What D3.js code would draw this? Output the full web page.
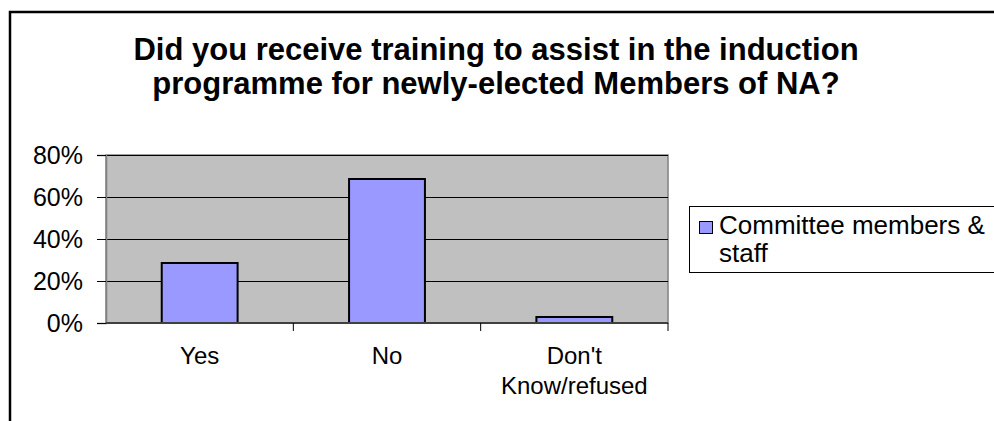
<!DOCTYPE html>
<html>
<head>
<meta charset="utf-8">
<script src="https://cdn.jsdelivr.net/npm/d3@7"></script>
<style>
  html, body { margin: 0; padding: 0; background: #fff; }
  svg { display: block; font-family: "Liberation Sans", Arial, sans-serif; }
</style>
</head>
<body>
<svg id="chart" width="994" height="421"></svg>
<script>
// Survey answers, share of respondents
const categories = ["Yes", "No", "Don't\nKnow/refused"];
const seriesName = "Committee members & staff";
const values = [0.2857, 0.6857, 0.0286];
const yTicks = [0, 0.2, 0.4, 0.6, 0.8];
const titleLines = [
  "Did you receive training to assist in the induction",
  "programme for newly-elected Members of NA?"
];

const svg = d3.select("#chart");

// chart frame
svg.append("rect")
  .attr("x", 10).attr("y", 12)
  .attr("width", 1000).attr("height", 420)
  .attr("fill", "#fff").attr("stroke", "#000").attr("stroke-width", 2.5);

// title
svg.append("g").selectAll("text").data(titleLines).join("text")
  .attr("x", 496).attr("y", (d, i) => 60 + i * 34)
  .attr("text-anchor", "middle")
  .attr("font-size", 31).attr("font-weight", "bold")
  .text(d => d);

const plot = { left: 106, top: 155, right: 668, bottom: 323 };

const x = d3.scaleBand()
  .domain(categories)
  .range([plot.left, plot.right])
  .paddingInner(0.595).paddingOuter(0.2975);

const y = d3.scaleLinear().domain([0, 0.8]).range([plot.bottom, plot.top]);

// plot area
svg.append("rect")
  .attr("x", plot.left).attr("y", plot.top)
  .attr("width", plot.right - plot.left).attr("height", plot.bottom - plot.top)
  .attr("fill", "#C0C0C0").attr("stroke", "#808080").attr("stroke-width", 1.5);

// gridlines
svg.append("g").selectAll("line").data(yTicks.filter(t => t > 0)).join("line")
  .attr("x1", plot.left).attr("x2", plot.right)
  .attr("y1", d => Math.round(y(d)) + 0.5).attr("y2", d => Math.round(y(d)) + 0.5)
  .attr("stroke", "#000").attr("stroke-width", 1);

// bars
svg.append("g").selectAll("rect").data(values).join("rect")
  .attr("x", (d, i) => x(categories[i]))
  .attr("width", x.bandwidth())
  .attr("y", d => y(d))
  .attr("height", d => y(0) - y(d))
  .attr("fill", "#9999FF").attr("stroke", "#000").attr("stroke-width", 2);

// y axis
const yAxis = d3.axisLeft(y).tickValues(yTicks).tickSize(9).tickPadding(14)
  .tickFormat(d3.format(".0%"));
const gy = svg.append("g").attr("transform", `translate(${plot.left},0)`).call(yAxis);
gy.select(".domain").attr("stroke", "#808080").attr("stroke-width", 1.5);
gy.selectAll(".tick line").attr("stroke", "#000");
gy.selectAll(".tick text").attr("font-size", 25).attr("fill", "#000")
  .attr("font-family", "Liberation Sans, Arial, sans-serif");

// x axis with category ticks between bands
const gx = svg.append("g").attr("transform", `translate(0,${plot.bottom})`);
gx.append("line").attr("x1", plot.left).attr("x2", plot.right)
  .attr("y1", 0).attr("y2", 0).attr("stroke", "#404040").attr("stroke-width", 2);
const step = x.step();
const bounds = d3.range(categories.length + 1).map(i => plot.left + i * step);
gx.selectAll("line.tk").data(bounds.slice(1)).join("line").attr("class", "tk")
  .attr("x1", d => d).attr("x2", d => d).attr("y1", 0).attr("y2", 8)
  .attr("stroke", "#000").attr("stroke-width", 1);

gx.selectAll("text").data(categories).join("text")
  .attr("text-anchor", "middle").attr("font-size", 24)
  .attr("transform", d => `translate(${x(d) + x.bandwidth() / 2},0)`)
  .each(function(d) {
    const t = d3.select(this);
    d.split("\n").forEach((ln, i) => {
      t.append("tspan").attr("x", 0).attr("y", 41 + i * 30).text(ln);
    });
  });

// legend
const lg = svg.append("g");
lg.append("rect").attr("x", 689.5).attr("y", 206.5).attr("width", 320).attr("height", 66)
  .attr("fill", "#fff").attr("stroke", "#000").attr("stroke-width", 1);
lg.append("rect").attr("x", 699.5).attr("y", 221.5).attr("width", 13).attr("height", 12)
  .attr("fill", "#9999FF").attr("stroke", "#000").attr("stroke-width", 1);
const words = seriesName.split(" ");
const legendLines = [words.slice(0, 3).join(" "), words.slice(3).join(" ")];
lg.selectAll("text").data(legendLines).join("text")
  .attr("x", 719).attr("y", (d, i) => 234 + i * 28)
  .attr("font-size", 26).text(d => d);
</script>
</body>
</html>
